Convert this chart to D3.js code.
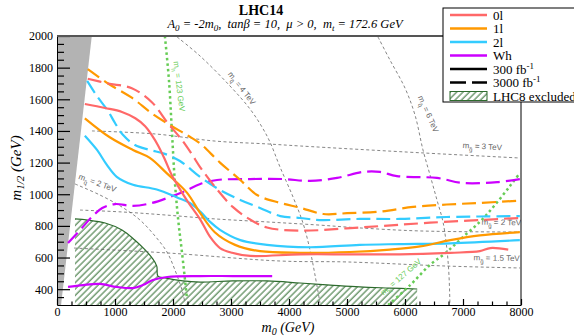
<!DOCTYPE html>
<html>
<head>
<meta charset="utf-8">
<script src="https://cdn.jsdelivr.net/npm/d3@7"></script>
<style>
  body { margin: 0; background: #fff; }
  svg { display: block; }
</style>
</head>
<body>
<script>
// ---- data (m0, m1/2) in GeV ----
const zeroL300 = [[480,1570],[830,1545],[1120,1520],[1350,1480],[1520,1430],[1640,1370],[1740,1310],[1860,1220],[1980,1120],[2090,1050],[2260,950],[2470,840],[2640,730],[2810,660],[3020,630],[3330,610],[4190,620],[5050,620],[5910,620],[6780,630],[7290,640],[7470,660],[7780,650]];
const zeroL3000 = [[530,1730],[880,1700],[1290,1670],[1640,1580],[1910,1450],[2160,1340],[2330,1250],[2470,1170],[2760,1030],[3030,920],[3330,840],[3620,790],[4190,770],[5220,790],[6430,820],[7980,850]];
const oneL300 = [[480,1480],[910,1360],[1310,1280],[1600,1230],[1900,1130],[2240,1010],[2470,880],[2720,760],[3070,680],[3500,640],[4190,630],[5050,635],[5740,650],[6260,670],[6780,710],[7290,740],[7980,760]];
const oneL3000 = [[530,1790],[880,1700],[1290,1610],[1640,1510],[1980,1430],[2260,1370],[2470,1320],[2810,1200],[3160,1090],[3450,995],[3850,945],[4190,915],[4590,875],[5000,880],[5570,890],[6140,920],[6720,935],[7290,945],[7980,960]];
const twoL300 = [[480,1370],[690,1280],[860,1185],[1030,1110],[1310,1060],[1720,1030],[2070,980],[2290,945],[2470,890],[2640,825],[2810,775],[3160,710],[3620,680],[4360,665],[5220,680],[5910,685],[6780,690],[7980,710]];
const twoL3000 = [[520,1716],[690,1620],[880,1526],[1000,1450],[1140,1374],[1345,1311],[1600,1280],[1860,1255],[2120,1210],[2470,1109],[2810,1027],[3160,964],[3500,913],[3850,862],[4190,850],[4530,837],[5220,844],[5910,844],[6720,856],[7980,862]];
const wh300 = [[190,414],[450,426],[740,433],[1030,414],[1310,407],[1480,426],[1655,458],[1900,477],[2470,483],[3030,483],[3710,483]];
const wh3000 = [[190,692],[430,787],[600,856],[780,913],[1000,938],[1310,926],[1640,945],[1950,983],[2210,1020],[2470,1065],[2760,1090],[3330,1096],[3900,1096],[4360,1084],[4830,1103],[5280,1141],[5570,1141],[5860,1115],[6550,1103],[7000,1071],[7590,1077],[7980,1096]];

const lhc8Excluded = [[310,300],[310,844],[530,837],[830,818],[1120,774],[1340,711],[1520,648],[1640,597],[1720,546],[1740,483],[1860,471],[2170,452],[2470,445],[3030,452],[3620,452],[4190,439],[4710,426],[5220,414],[5740,407],[6210,401],[6210,300]];
const noEwsb = [[0,300],[0,2000],[600,2000],[70,300]];

const mh123 = [[1860,2000],[1930,1722],[1980,1406],[2030,1090],[2090,837],[2160,616],[2240,344]];
const mh127 = [[5710,300],[6090,426],[6430,553],[6720,635],[7000,730],[7290,825],[7550,932],[7810,1052],[7980,1134]];

const msq2 = [[310,1065],[741,995],[1121,919],[1431,837],[1690,736],[1896,635],[2034,521],[2155,395],[2207,313]];
const msq4 = [[2070,1994],[2465,1874],[2983,1684],[3327,1539],[3534,1425],[3672,1330],[3845,1172],[4069,983],[4241,818],[4362,648],[4448,490],[4534,313]];
const msq6 = [[5534,1994],[5741,1848],[6000,1671],[6172,1501],[6310,1280],[6431,1122],[6551,964],[6655,825],[6724,648],[6758,490],[6775,300]];
const mgl3 = [[603,1400],[1690,1381],[2724,1336],[3620,1318],[4189,1305],[6310,1261],[7982,1229]];
const mgl2 = [[397,900],[1121,888],[1862,869],[2724,844],[3620,825],[4482,806],[5224,787],[6258,768],[7982,761]];
const mgl15 = [[293,660],[1896,629],[3845,578],[5000,572],[6724,546],[7982,534]];

const xTicks = [0,1000,2000,3000,4000,5000,6000,7000,8000];
const yTicks = [400,600,800,1000,1200,1400,1600,1800,2000];

const legendNames = ['0l','1l','2l','Wh'];

// ---- setup ----
const W = 574, H = 336;
const serif = "'Liberation Serif','DejaVu Serif',serif";
const sans = "'Liberation Sans','DejaVu Sans',sans-serif";
const RED = '#ff6868', ORANGE = '#ff9900', BLUE = '#33ccff', PURPLE = '#cc00ff';
const GREEN = '#66cc55', HATCH = '#2d6b2d', GRID = '#666';
const DASH = '14,6';

const x = d3.scaleLinear().domain([0, 8000]).range([57, 521]);
const y = d3.scaleLinear().domain([300, 2000]).range([305, 36]);

const svg = d3.select('body').append('svg')
  .attr('width', W).attr('height', H);

const defs = svg.append('defs');
defs.append('clipPath').attr('id', 'plot-clip')
  .append('rect')
  .attr('x', x(0)).attr('y', y(2000))
  .attr('width', x(8000) - x(0)).attr('height', y(300) - y(2000));

defs.append('pattern')
  .attr('id', 'hatch')
  .attr('patternUnits', 'userSpaceOnUse')
  .attr('width', 4.5).attr('height', 4.5)
  .attr('patternTransform', 'rotate(45)')
  .append('line')
  .attr('x1', 1).attr('y1', 0).attr('x2', 1).attr('y2', 4.5)
  .attr('stroke', HATCH).attr('stroke-width', 1);

// helper for text with sub/superscripts
function rich(sel, parts, small) {
  let shift = 0;
  parts.forEach(([t, kind]) => {
    const target = kind === 'sub' ? 3 : kind === 'sup' ? -5 : 0;
    const ts = sel.append('tspan').attr('dy', target - shift).text(t);
    if (kind) ts.attr('font-size', small);
    shift = target;
  });
}

const line = d3.line().x(d => x(d[0])).y(d => y(d[1]));
const smooth = d3.line().x(d => x(d[0])).y(d => y(d[1])).curve(d3.curveCatmullRom.alpha(0.5));

const plot = svg.append('g').attr('clip-path', 'url(#plot-clip)');

// no EWSB / excluded corner
plot.append('path').attr('d', line(noEwsb)).attr('fill', '#b3b3b3');

// LHC8 excluded
plot.append('path')
  .attr('d', line(lhc8Excluded))
  .attr('fill', 'url(#hatch)')
  .attr('stroke', 'none');
plot.append('path')
  .attr('d', smooth(lhc8Excluded.slice(1, -1)))
  .attr('fill', 'none')
  .attr('stroke', HATCH).attr('stroke-width', 1.2);

// mass contours
[msq2, msq4, msq6, mgl3, mgl2, mgl15].forEach(c => {
  plot.append('path')
    .attr('d', smooth(c))
    .attr('fill', 'none')
    .attr('stroke', GRID)
    .attr('stroke-width', 0.8)
    .attr('stroke-dasharray', '3,2.5');
});

// higgs mass lines
[mh123, mh127].forEach(c => {
  plot.append('path')
    .attr('d', smooth(c))
    .attr('fill', 'none')
    .attr('stroke', GREEN)
    .attr('stroke-width', 2.5)
    .attr('stroke-dasharray', '2.5,3');
});

// reach curves
const curves = [
  { d: wh300, c: PURPLE, dash: null },
  { d: wh3000, c: PURPLE, dash: DASH },
  { d: twoL300, c: BLUE, dash: null },
  { d: twoL3000, c: BLUE, dash: DASH },
  { d: oneL300, c: ORANGE, dash: null },
  { d: oneL3000, c: ORANGE, dash: DASH },
  { d: zeroL300, c: RED, dash: null },
  { d: zeroL3000, c: RED, dash: DASH },
];
curves.forEach(k => {
  plot.append('path')
    .attr('d', smooth(k.d))
    .attr('fill', 'none')
    .attr('stroke', k.c)
    .attr('stroke-width', 2.2)
    .attr('stroke-dasharray', k.dash);
});

// contour labels (positions in data coordinates)
const notes = [
  { at: [7330, 1285], rot: 3, col: GRID, parts: [['m'], ['g\u0303', 'sub'], [' = 3 TeV']] },
  { at: [7660, 805], rot: 1, col: GRID, parts: [['m'], ['g\u0303', 'sub'], [' = 2 TeV']] },
  { at: [7580, 580], rot: 1, col: GRID, parts: [['m'], ['g\u0303', 'sub'], [' = 1.5 TeV']] },
  { at: [680, 1055], rot: 20, col: GRID, parts: [['m'], ['q\u0303', 'sub'], [' = 2 TeV']] },
  { at: [3150, 1660], rot: 52, col: GRID, parts: [['m'], ['q\u0303', 'sub'], [' = 4 TeV']] },
  { at: [6360, 1500], rot: 66, col: GRID, parts: [['m'], ['q\u0303', 'sub'], [' = 6 TeV']] },
  { at: [2060, 1680], rot: 83, col: GREEN, parts: [['m'], ['h', 'sub'], [' = 123 GeV']] },
  { at: [5960, 465], rot: -41, col: GREEN, parts: [['m'], ['h', 'sub'], [' = 127 GeV']] },
];
notes.forEach(n => {
  const t = plot.append('text')
    .attr('transform', `translate(${x(n.at[0])},${y(n.at[1])}) rotate(${n.rot})`)
    .attr('text-anchor', 'middle')
    .attr('dy', '0.35em')
    .attr('font-family', sans)
    .attr('font-size', 8)
    .attr('fill', n.col);
  rich(t, n.parts, 6);
});

// ---- axes ----
const xAxis = svg.append('g')
  .attr('transform', `translate(0,${y(300)})`)
  .call(d3.axisBottom(x).tickValues(xTicks).tickFormat(d3.format('d'))
    .tickSizeInner(-6).tickSizeOuter(0).tickPadding(2));
svg.append('g')
  .attr('transform', `translate(0,${y(300)})`)
  .call(d3.axisBottom(x).tickValues(d3.range(250, 8000, 250).filter(v => v % 1000)).tickSize(-3.5).tickFormat(''))
  .call(g => g.select('.domain').remove());

const yAxis = svg.append('g')
  .attr('transform', `translate(${x(0)},0)`)
  .call(d3.axisLeft(y).tickValues(yTicks).tickFormat(d3.format('d'))
    .tickSizeInner(-13).tickSizeOuter(0).tickPadding(4));
svg.append('g')
  .attr('transform', `translate(${x(0)},0)`)
  .call(d3.axisLeft(y).tickValues(d3.range(350, 2000, 50).filter(v => v % 200)).tickSize(-7).tickFormat(''))
  .call(g => g.select('.domain').remove());

[xAxis, yAxis].forEach(g => {
  g.selectAll('text').attr('font-family', serif).attr('font-size', 12).attr('fill', '#000');
  g.selectAll('line').attr('stroke', '#000');
});
svg.selectAll('.tick line').attr('stroke-width', 1.2);

// frame
svg.append('line')
  .attr('x1', x(0)).attr('x2', x(8000)).attr('y1', y(2000)).attr('y2', y(2000))
  .attr('stroke', '#555').attr('stroke-width', 2);
svg.append('line')
  .attr('x1', x(8000)).attr('x2', x(8000)).attr('y1', y(2000)).attr('y2', y(300))
  .attr('stroke', '#000').attr('stroke-width', 1);

// axis titles
const xt = svg.append('text')
  .attr('x', 288).attr('y', 332)
  .attr('text-anchor', 'middle')
  .attr('font-family', serif).attr('font-style', 'italic').attr('font-size', 14);
rich(xt, [['m'], ['0', 'sub'], ['\u00A0(GeV)']], 10);

const yt = svg.append('text')
  .attr('transform', 'translate(21,168) rotate(-90)')
  .attr('text-anchor', 'middle')
  .attr('font-family', serif).attr('font-style', 'italic').attr('font-size', 15);
rich(yt, [['m'], ['1/2', 'sub'], ['\u00A0(GeV)']], 11);

// titles
svg.append('text')
  .attr('x', 261).attr('y', 15)
  .attr('text-anchor', 'middle')
  .attr('font-family', serif).attr('font-weight', 'bold').attr('font-size', 14)
  .text('LHC14');
const st = svg.append('text')
  .attr('x', 285).attr('y', 28)
  .attr('text-anchor', 'middle')
  .attr('font-family', serif).attr('font-style', 'italic').attr('font-size', 12.5);
rich(st, [['A'], ['0', 'sub'], [' = -2m'], ['0', 'sub'], [',\u00A0 tan\u03B2 = 10,\u00A0 \u03BC > 0,\u00A0 m'], ['t', 'sub'], [' = 172.6 GeV']], 9);

// ---- legend ----
const leg = svg.append('g');
leg.append('rect')
  .attr('x', 443).attr('y', 8).attr('width', 150).attr('height', 94)
  .attr('fill', '#fff').attr('stroke', '#000').attr('stroke-width', 1);

const legendItems = [
  { name: legendNames[0], c: RED },
  { name: legendNames[1], c: ORANGE },
  { name: legendNames[2], c: BLUE },
  { name: legendNames[3], c: PURPLE },
  { parts: [['300 fb'], ['-1', 'sup']], c: '#000' },
  { parts: [['3000 fb'], ['-1', 'sup']], c: '#000', dash: '16,6' },
  { name: 'LHC8 excluded', hatch: true },
];
legendItems.forEach((it, i) => {
  const yy = 15 + i * 13.5;
  if (it.hatch) {
    leg.append('rect')
      .attr('x', 450).attr('y', yy - 4.5).attr('width', 37).attr('height', 9)
      .attr('fill', 'url(#hatch)').attr('stroke', HATCH).attr('stroke-width', 1);
  } else {
    leg.append('line')
      .attr('x1', 450).attr('x2', 487).attr('y1', yy).attr('y2', yy)
      .attr('stroke', it.c).attr('stroke-width', 2.5)
      .attr('stroke-dasharray', it.dash || null);
  }
  const t = leg.append('text')
    .attr('x', 493).attr('y', yy + 4.5)
    .attr('font-family', serif).attr('font-size', 13);
  if (it.parts) rich(t, it.parts, 9);
  else t.text(it.name);
});
</script>
</body>
</html>
